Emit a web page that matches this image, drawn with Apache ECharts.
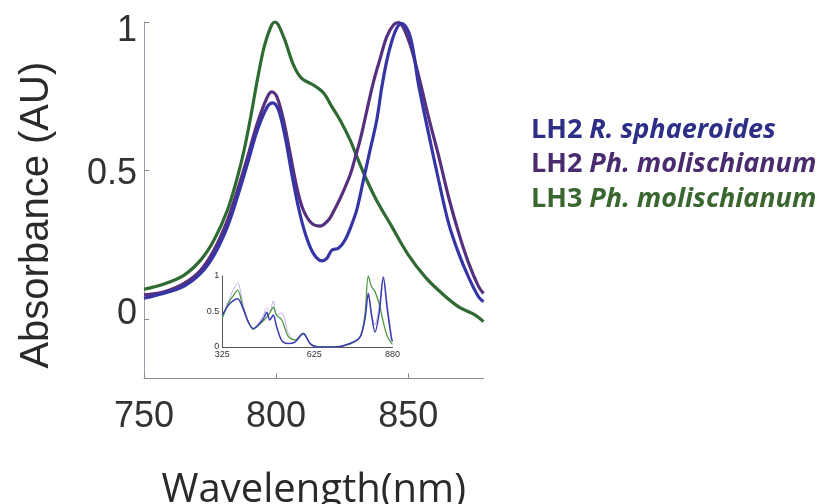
<!DOCTYPE html>
<html><head><meta charset="utf-8">
<script src="https://cdn.jsdelivr.net/npm/echarts@6/dist/echarts.min.js"></script>
<style>html,body{margin:0;padding:0;background:#fff}#c{width:822px;height:504px}</style>
</head><body><div id="c"></div>
<script>
// ---- main spectra (wavelength nm, absorbance AU) ----
const seriesNames = ['LH2 R. sphaeroides', 'LH2 Ph. molischianum', 'LH3 Ph. molischianum'];

const sphNm  = [750, 757.6, 765.2, 771.5, 776.5, 781.6, 785.4, 789.2, 792.9, 796.7, 798.7, 800.9, 803.4, 805.9, 808.4, 811, 814.1, 817.3, 819.2, 821.1, 823.6, 826.1, 828.7, 830.6, 833.1, 835.6, 838.1, 840, 841.9, 843.8, 845.7, 847.6, 850.8, 853.9, 857.7, 861.5, 865.3, 869.1, 872.8, 876.6, 878.5];
const sphVal = [0.070, 0.087, 0.111, 0.154, 0.215, 0.311, 0.412, 0.524, 0.636, 0.715, 0.728, 0.704, 0.614, 0.491, 0.378, 0.289, 0.221, 0.196, 0.204, 0.232, 0.238, 0.266, 0.32, 0.37, 0.47, 0.57, 0.67, 0.78, 0.87, 0.935, 0.98, 0.995, 0.95, 0.79, 0.625, 0.468, 0.322, 0.221, 0.142, 0.075, 0.058];

const molNm  = [750, 757.6, 765.2, 771.5, 776.5, 781.6, 785.4, 789.2, 792.9, 796.7, 798.4, 800.3, 802.8, 805.3, 807.8, 810.3, 813.5, 816.7, 819.8, 821.7, 824.2, 828, 830, 832, 834.3, 836.9, 839.4, 841.9, 844.4, 846.3, 850.1, 853.9, 857.7, 861.5, 865.3, 869.1, 872.8, 876.6, 878.5];
const molVal = [0.081, 0.092, 0.120, 0.165, 0.232, 0.333, 0.434, 0.546, 0.659, 0.748, 0.765, 0.748, 0.670, 0.558, 0.445, 0.367, 0.322, 0.313, 0.333, 0.361, 0.405, 0.485, 0.545, 0.61, 0.70, 0.80, 0.878, 0.951, 0.99, 0.998, 0.94, 0.82, 0.68, 0.55, 0.41, 0.29, 0.19, 0.11, 0.086];

const lh3Nm  = [750, 757.6, 765.2, 771.5, 776.5, 781.6, 785.4, 787.9, 790.4, 792.9, 795.5, 798, 799.6, 802.8, 806.6, 809.7, 814.1, 817.9, 821.1, 824.2, 828, 830.6, 834.3, 838, 843.8, 850.1, 856.4, 862.8, 869.1, 875.4, 878.5];
const lh3Val = [0.100, 0.118, 0.148, 0.199, 0.266, 0.367, 0.479, 0.569, 0.681, 0.805, 0.917, 0.984, 1.0, 0.951, 0.855, 0.810, 0.788, 0.762, 0.715, 0.670, 0.603, 0.546, 0.468, 0.40, 0.311, 0.215, 0.142, 0.086, 0.041, 0.013, -0.009];

// ---- inset: full spectra 325-880 nm ----
const insetNm   = [325, 345, 360, 375, 393, 410, 426, 442, 459, 470, 480, 491, 502, 519, 540, 562, 589, 611, 633, 690, 741, 774, 790, 801, 812, 823, 837, 850, 863, 877, 880];
const insetSph  = [0.45, 0.59, 0.65, 0.68, 0.54, 0.35, 0.26, 0.31, 0.40, 0.49, 0.38, 0.45, 0.29, 0.09, 0.05, 0.07, 0.19, 0.05, 0.0, 0.0, 0.05, 0.14, 0.39, 0.75, 0.44, 0.21, 0.49, 0.98, 0.53, 0.11, 0.08];
const insetMol  = [0.42, 0.65, 0.80, 0.90, 0.60, 0.35, 0.25, 0.33, 0.45, 0.55, 0.50, 0.65, 0.45, 0.48, 0.20, 0.10, 0.19, 0.05, 0.0, 0.0, 0.05, 0.14, 0.39, 0.77, 0.46, 0.31, 0.60, 1.0, 0.60, 0.15, 0.1];
const insetLh3  = [0.40, 0.62, 0.72, 0.80, 0.55, 0.35, 0.25, 0.30, 0.37, 0.42, 0.48, 0.56, 0.45, 0.38, 0.15, 0.10, 0.19, 0.05, 0.01, 0.0, 0.04, 0.14, 0.45, 1.0, 0.85, 0.78, 0.60, 0.35, 0.15, 0.05, 0.04];

// ---- ticks ----
const xTicks = [750, 800, 850];
const yTicks = [0, 0.5, 1];
const insetXTicks = [325, 625, 880];
const insetYTicks = [0, 0.5, 1];

const zip = (a, b) => a.map((v, i) => [v, b[i]]);

const C_BLUE = '#3535a6', C_PURP = '#56307f', C_GREEN = '#2f6a33';
const sans = 'Liberation Sans, Arial, sans-serif';
const human = 'Open Sans, Lato, sans-serif';

const chart = echarts.init(document.getElementById('c'), null, {renderer: 'canvas'});
chart.setOption({
  animation: false,
  backgroundColor: '#fff',
  grid: [
    {left: 144, top: 22, right: 338.5, bottom: 125.6, outerBoundsMode: 'none', containLabel: false},
    {left: 222.3, top: 276, right: 429.5, bottom: 157, outerBoundsMode: 'none', containLabel: false}
  ],
  legend: {
    data: [
      {name: seriesNames[0], textStyle: {color: '#2d2f86'}},
      {name: seriesNames[1], textStyle: {color: '#4a2b6e'}},
      {name: seriesNames[2], textStyle: {color: '#3a6630'}}
    ],
    orient: 'vertical', left: 521, top: 108,
    icon: 'none', itemWidth: 0, itemHeight: 0, itemGap: 0,
    selectedMode: false,
    formatter: n => { const i = n.indexOf(' '); return '{b|' + n.slice(0, i) + '} {i|' + n.slice(i + 1) + '}'; },
    textStyle: {
      fontFamily: human, fontSize: 27, fontWeight: 'bold', lineHeight: 34.5,
      rich: {
        b: {fontFamily: human, fontSize: 27, fontWeight: 'bold', lineHeight: 34.5},
        i: {fontFamily: human, fontSize: 27, fontWeight: 'bold', fontStyle: 'italic', lineHeight: 34.5}
      }
    }
  },
  xAxis: [
    {
      gridIndex: 0, type: 'value', min: 750, max: 878.5,
      name: 'Wavelength(nm)', nameLocation: 'middle', nameGap: 92,
      nameTextStyle: {fontFamily: human, fontSize: 40, color: '#2a2a2a'},
      axisLine: {show: true, onZero: false, lineStyle: {color: '#8a8a8a', width: 1}},
      axisTick: {show: true, inside: true, length: 5, customValues: xTicks, lineStyle: {color: '#8a8a8a'}},
      axisLabel: {customValues: xTicks, fontFamily: sans, fontSize: 36, color: '#333', margin: 21},
      splitLine: {show: false}
    },
    {
      gridIndex: 1, type: 'value', min: 325, max: 880,
      axisLine: {show: true, onZero: false, lineStyle: {color: '#555', width: 1}},
      axisTick: {show: false},
      axisLabel: {customValues: insetXTicks, fontFamily: sans, fontSize: 9, color: '#333', margin: 3},
      splitLine: {show: false}
    }
  ],
  yAxis: [
    {
      gridIndex: 0, type: 'value', min: -0.2, max: 1,
      name: 'Absorbance (AU)', nameLocation: 'middle', nameGap: 87, nameRotate: 90,
      nameTextStyle: {fontFamily: sans, fontSize: 40, color: '#2a2a2a', padding: [0, 30, 0, 0]},
      axisLine: {show: true, onZero: false, lineStyle: {color: '#9a9aa8', width: 1}},
      axisTick: {show: true, inside: true, length: 5, customValues: yTicks, lineStyle: {color: '#8a8a8a'}},
      axisLabel: {
        customValues: yTicks, fontFamily: sans, fontSize: 36, color: '#333', margin: 7,
        formatter: v => v === 1 ? '{t|1}' : (v === 0 ? '{z|0}' : '{m|0.5}'),
        rich: {
          t: {fontFamily: sans, fontSize: 36, color: '#333', padding: [18, 0, 0, 0]},
          z: {fontFamily: sans, fontSize: 36, color: '#333', padding: [0, 0, 10, 0]},
          m: {fontFamily: sans, fontSize: 36, color: '#333', padding: [8, 0, 0, 0]}
        }
      },
      splitLine: {show: false}
    },
    {
      gridIndex: 1, type: 'value', min: 0, max: 1,
      axisLine: {show: true, onZero: false, lineStyle: {color: '#555', width: 1}},
      axisTick: {show: false},
      axisLabel: {customValues: insetYTicks, fontFamily: sans, fontSize: 9, color: '#333', margin: 3},
      splitLine: {show: false}
    }
  ],
  series: [
    {name: seriesNames[2], type: 'line', xAxisIndex: 0, yAxisIndex: 0, data: zip(lh3Nm, lh3Val), smooth: 0.35, showSymbol: false, lineStyle: {color: C_GREEN, width: 3.2}, itemStyle: {color: C_GREEN}},
    {name: seriesNames[1], type: 'line', xAxisIndex: 0, yAxisIndex: 0, data: zip(molNm, molVal), smooth: 0.35, showSymbol: false, lineStyle: {color: C_PURP, width: 3.2}, itemStyle: {color: C_PURP}},
    {name: seriesNames[0], type: 'line', xAxisIndex: 0, yAxisIndex: 0, data: zip(sphNm, sphVal), smooth: 0.35, showSymbol: false, lineStyle: {color: C_BLUE, width: 3.2}, itemStyle: {color: C_BLUE}},
    {name: 'inset LH2 Ph. molischianum', type: 'line', xAxisIndex: 1, yAxisIndex: 1, data: zip(insetNm, insetMol), smooth: 0.3, showSymbol: false, lineStyle: {color: '#c6aee6', width: 1}},
    {name: 'inset LH3 Ph. molischianum', type: 'line', xAxisIndex: 1, yAxisIndex: 1, data: zip(insetNm, insetLh3), smooth: 0.3, showSymbol: false, lineStyle: {color: '#4e9a46', width: 1.3}},
    {name: 'inset LH2 R. sphaeroides', type: 'line', xAxisIndex: 1, yAxisIndex: 1, data: zip(insetNm, insetSph), smooth: 0.3, showSymbol: false, lineStyle: {color: '#3b3bb4', width: 1.5}}
  ]
});
</script>
</body></html>
